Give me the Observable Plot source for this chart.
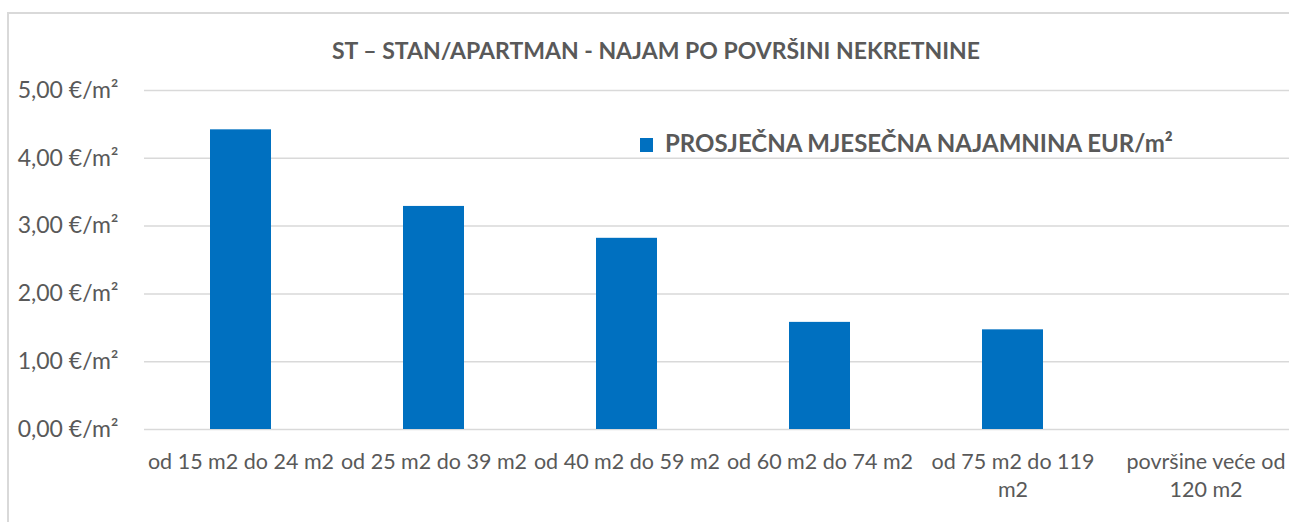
<!DOCTYPE html>
<html>
<head>
<meta charset="utf-8">
<script src="https://cdn.jsdelivr.net/npm/d3@7"></script>
<script src="https://cdn.jsdelivr.net/npm/@observablehq/plot@0.6"></script>
<style>
  html, body { margin: 0; padding: 0; background: #fff; overflow: hidden; width: 1289px; height: 522px; }
  #wrap { position: relative; width: 1289px; height: 522px; overflow: hidden; font-family: Lato, "Open Sans", sans-serif; color: #595959; }
  #bTop { position: absolute; left: 7px; top: 12px; width: 1282px; height: 2px; background: #d9d9d9; }
  #bLeft { position: absolute; left: 7px; top: 12px; width: 2px; height: 510px; background: #d9d9d9; }
  #chart { position: absolute; left: 0; top: 0; width: 1289px; height: 522px; overflow: hidden; }
  #title { position: absolute; left: 0; width: 1312px; top: 35px; text-align: center; font-weight: bold; font-size: 23px; line-height: 30px; }
  #legend { position: absolute; left: 640px; top: 128px; font-weight: bold; font-size: 24px; line-height: 30px; white-space: nowrap; }
  #legend .sw { display: inline-block; width: 13px; height: 14px; background: #0070c0; margin-right: 12px; vertical-align: 0px; }
</style>
</head>
<body>
<div id="wrap">
  <div id="bTop"></div>
  <div id="bLeft"></div>
  <div id="chart"></div>
  <div id="title"></div>
  <div id="legend"><span class="sw"></span><span id="legtext"></span></div>
</div>
<script>
const titleText = "ST – STAN/APARTMAN - NAJAM PO POVRŠINI NEKRETNINE";
const seriesName = "PROSJEČNA MJESEČNA NAJAMNINA EUR/m²";
const categories = [
  "od 15 m2 do 24 m2",
  "od 25 m2 do 39 m2",
  "od 40 m2 do 59 m2",
  "od 60 m2 do 74 m2",
  "od 75 m2 do 119 m2",
  "površine veće od 120 m2"
];
const tickLabels = [
  "od 15 m2 do 24 m2",
  "od 25 m2 do 39 m2",
  "od 40 m2 do 59 m2",
  "od 60 m2 do 74 m2",
  "od 75 m2 do 119\nm2",
  "površine veće od\n120 m2"
];
const values = [4.42, 3.29, 2.82, 1.58, 1.47, null];
const yTicks = [0, 1, 2, 3, 4, 5];

document.getElementById("title").textContent = titleText;
document.getElementById("legtext").textContent = seriesName;

const data = categories.map((c, i) => ({cat: c, value: values[i]}));
const labelOf = new Map(categories.map((c, i) => [c, tickLabels[i]]));

const chart = Plot.plot({
  width: 1289,
  height: 522,
  marginTop: 90,
  marginBottom: 93,
  marginLeft: 144,
  marginRight: 0,
  style: {fontFamily: "Lato, 'Open Sans', sans-serif", fontSize: "21px", color: "#595959", background: "transparent"},
  x: {domain: categories, range: [144, 1302], paddingInner: 0.684, paddingOuter: 0.342, label: null},
  y: {domain: [0, 5], label: null},
  marks: [
    Plot.gridY(yTicks, {stroke: "#d9d9d9", strokeOpacity: 1, strokeWidth: 1.5}),
    Plot.barY(data.filter(d => d.value != null), {x: "cat", y: "value", fill: "#0070c0"}),
    Plot.axisY(yTicks, {tickSize: 0, tickPadding: 26, tickFormat: d => d.toFixed(2).replace(".", ",") + " €/m²", fill: "#595959", fontSize: 23}),
    Plot.axisX({tickSize: 0, tickPadding: 20, tickFormat: d => labelOf.get(d), lineHeight: 1.3, fill: "#595959", fontSize: 21.5})
  ]
});
document.getElementById("chart").appendChild(chart);
</script>
</body>
</html>
